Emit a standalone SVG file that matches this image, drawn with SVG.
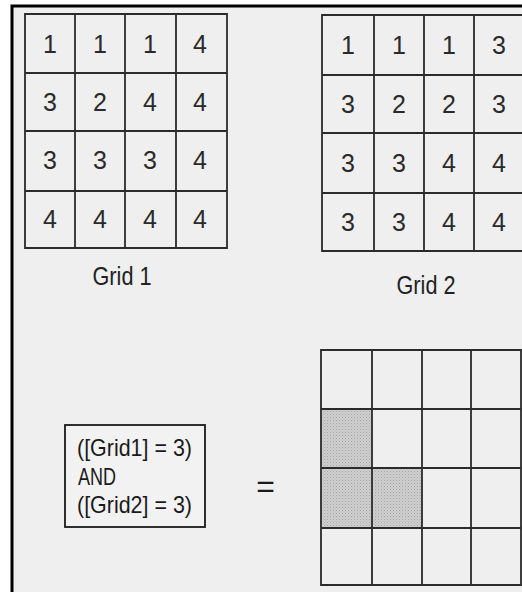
<svg xmlns="http://www.w3.org/2000/svg" width="522" height="592" viewBox="0 0 522 592">
<defs>
<style>
.bg{fill:#efefef}
.cell{fill:none;stroke:#2b2b2b;stroke-width:1.8}
.frame{fill:none;stroke:#000;stroke-width:3}
.num{font-family:"Liberation Sans",Arial,sans-serif;font-size:25px;fill:#2a2a2a;text-anchor:middle}
.lbl{font-family:"Liberation Sans",Arial,sans-serif;font-size:26px;fill:#222;text-anchor:middle}
.expr{font-family:"Liberation Sans",Arial,sans-serif;font-size:24px;fill:#1a1a1a}
</style>
<pattern id="stip" width="3" height="3" patternUnits="userSpaceOnUse">
<rect width="3" height="3" fill="#d0d0d0"/>
<rect x="0" y="0" width="1" height="1" fill="#a4a4a4"/>
<rect x="1.5" y="1.5" width="1" height="1" fill="#b2b2b2"/>
</pattern>
</defs>
<rect width="522" height="592" fill="#ffffff"/>
<rect class="bg" x="12" y="6" width="510" height="586"/>
<path class="frame" d="M12,592 V6 H522"/>

<g id="grid1">
<path class="cell" d="M25,14 H227 V248 H25 Z M75,14 V248 M125,14 V248 M176,14 V248 M25,73 H227 M25,131 H227 M25,191 H227"/>
<text class="num" x="50" y="53">1</text><text class="num" x="100" y="53">1</text><text class="num" x="150" y="53">1</text><text class="num" x="200" y="53">4</text>
<text class="num" x="50" y="111">3</text><text class="num" x="100" y="111">2</text><text class="num" x="150" y="111">4</text><text class="num" x="200" y="111">4</text>
<text class="num" x="50" y="169">3</text><text class="num" x="100" y="169">3</text><text class="num" x="150" y="169">3</text><text class="num" x="200" y="169">4</text>
<text class="num" x="50" y="228">4</text><text class="num" x="100" y="228">4</text><text class="num" x="150" y="228">4</text><text class="num" x="200" y="228">4</text>
<text class="lbl" x="122" y="285" textLength="59" lengthAdjust="spacingAndGlyphs">Grid 1</text>
</g>

<g id="grid2">
<path class="cell" d="M322,15 H524 V251 H322 Z M374,15 V251 M424,15 V251 M474,15 V251 M322,75 H524 M322,133 H524 M322,193 H524"/>
<text class="num" x="348" y="54">1</text><text class="num" x="399" y="54">1</text><text class="num" x="449" y="54">1</text><text class="num" x="499" y="54">3</text>
<text class="num" x="348" y="113">3</text><text class="num" x="399" y="113">2</text><text class="num" x="449" y="113">2</text><text class="num" x="499" y="113">3</text>
<text class="num" x="348" y="172">3</text><text class="num" x="399" y="172">3</text><text class="num" x="449" y="172">4</text><text class="num" x="499" y="172">4</text>
<text class="num" x="348" y="231">3</text><text class="num" x="399" y="231">3</text><text class="num" x="449" y="231">4</text><text class="num" x="499" y="231">4</text>
<text class="lbl" x="426" y="294" textLength="59" lengthAdjust="spacingAndGlyphs">Grid 2</text>
</g>

<g id="expression">
<rect x="65" y="425" width="140" height="102" fill="#f2f2f2" stroke="#1a1a1a" stroke-width="1.8"/>
<text class="expr" x="77" y="456" textLength="115" lengthAdjust="spacingAndGlyphs">([Grid1] = 3)</text>
<text class="expr" x="78" y="485" textLength="38" lengthAdjust="spacingAndGlyphs">AND</text>
<text class="expr" x="77" y="513" textLength="115" lengthAdjust="spacingAndGlyphs">([Grid2] = 3)</text>
</g>

<g id="equals">
<text class="expr" x="265.5" y="497" style="font-size:32px;text-anchor:middle">=</text>
</g>

<g id="result">
<rect x="321" y="409" width="51" height="59" fill="url(#stip)"/>
<rect x="321" y="468" width="101" height="60" fill="url(#stip)"/>
<path class="cell" d="M321,350 H521 V585 H321 Z M372,350 V585 M422,350 V585 M471,350 V585 M321,409 H521 M321,468 H521 M321,528 H521"/>
</g>

<g id="connectors"></g>
</svg>
